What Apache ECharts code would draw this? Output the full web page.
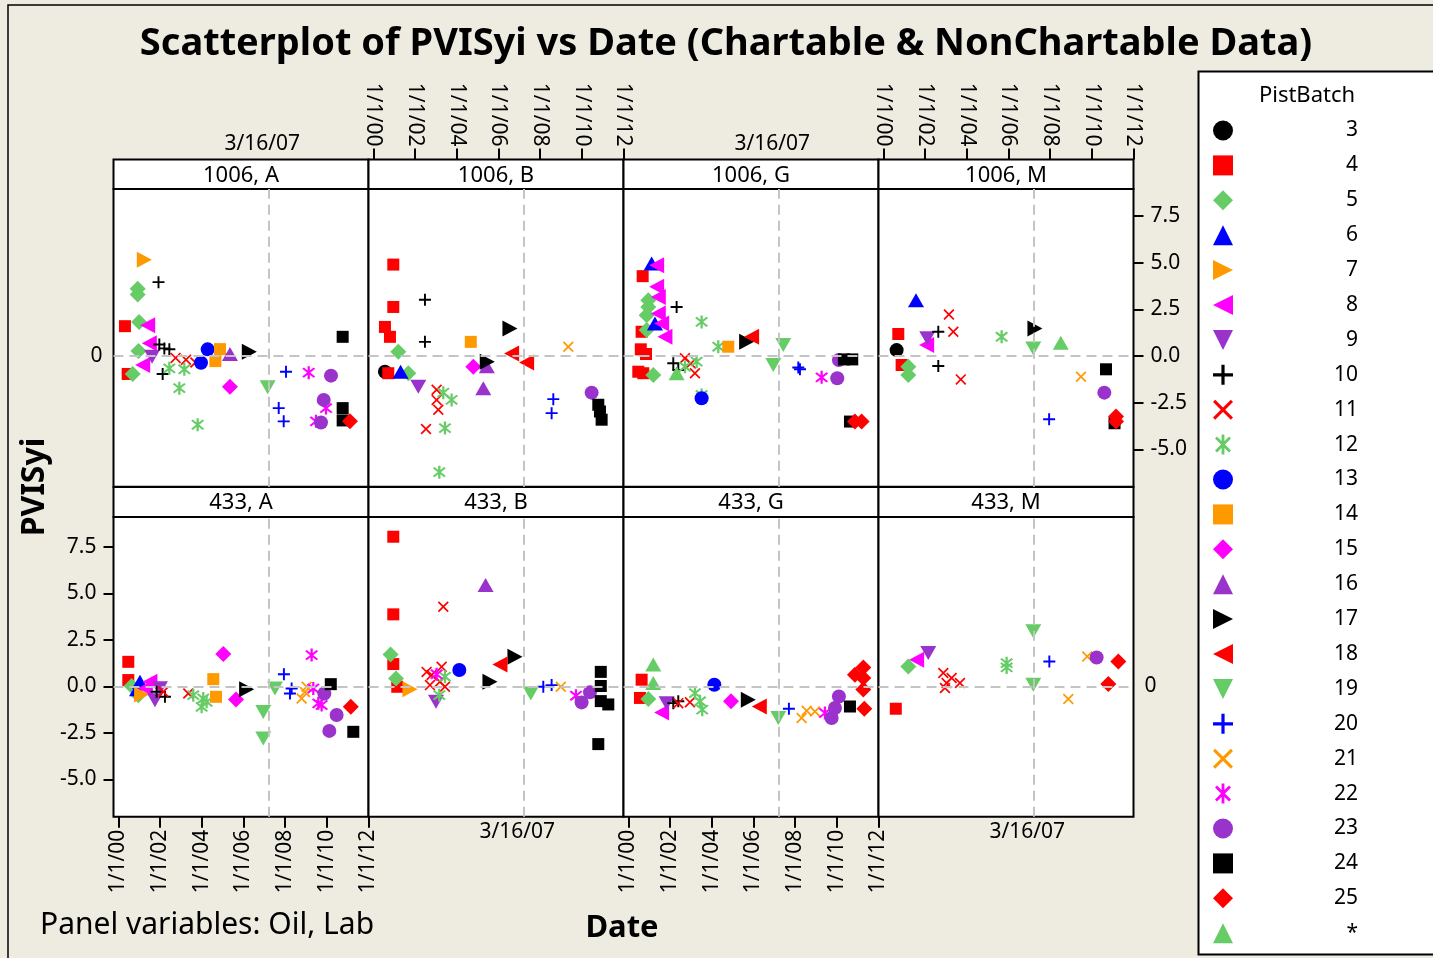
<!DOCTYPE html>
<html>
<head>
<meta charset="utf-8">
<script src="https://cdn.jsdelivr.net/npm/echarts@6/dist/echarts.min.js"></script>
<style>
  html, body { margin: 0; padding: 0; background: #EEEBE1; }
  #chart { width: 1433px; height: 958px; }
</style>
</head>
<body>
<div id="chart"></div>
<script>
// panels (Oil, Lab)
const panels = ["1006, A", "1006, B", "1006, G", "1006, M", "433, A", "433, B", "433, G", "433, M"];
// PistBatch groups
const batches = ["3", "4", "5", "6", "7", "8", "9", "10", "11", "12", "13", "14", "15", "16", "17", "18", "19", "20", "21", "22", "23", "24", "25", "*"];
// date axis ticks (decimal years) and value ticks
const xTicks = [2000, 2002, 2004, 2006, 2008, 2010, 2012];
const yTicks = [-5, -2.5, 0, 2.5, 5, 7.5];
const refDate = 2007.2; // 3/16/07
const refLabel = "3/16/07";

// [PistBatch, date (decimal year), PVISyi]
const p1006A = [
  ["7", 2001.25, 5.16], ["10", 2001.93, 3.96], ["5", 2000.93, 3.61], ["5", 2000.93, 3.30],
  ["4", 2000.32, 1.60], ["5", 2001.00, 1.83], ["8", 2001.41, 1.65], ["8", 2001.49, 0.68],
  ["5", 2000.97, 0.27], ["9", 2001.62, -0.04], ["10", 2001.97, 0.62], ["10", 2002.21, 0.41],
  ["10", 2002.45, 0.36], ["4", 2000.45, -0.96], ["5", 2000.69, -0.96], ["8", 2001.17, -0.48],
  ["10", 2002.13, -0.96], ["11", 2002.75, -0.10], ["11", 2003.25, -0.20], ["11", 2003.70, -0.35],
  ["12", 2002.45, -0.66], ["12", 2003.17, -0.71], ["12", 2002.93, -1.72], ["12", 2003.81, -3.68],
  ["13", 2004.29, 0.36], ["13", 2003.97, -0.36], ["14", 2004.88, 0.37], ["14", 2004.66, -0.27],
  ["16", 2005.36, 0.11], ["17", 2006.29, 0.23], ["15", 2005.36, -1.64], ["19", 2007.17, -1.67],
  ["20", 2008.05, -0.84], ["20", 2007.70, -2.79], ["20", 2007.94, -3.50], ["22", 2009.14, -0.89],
  ["22", 2009.97, -2.79], ["22", 2009.49, -3.50], ["23", 2010.21, -1.05], ["23", 2009.86, -2.35],
  ["23", 2009.73, -3.56], ["24", 2010.77, 1.03], ["24", 2010.77, -2.79], ["24", 2010.77, -3.45],
  ["25", 2011.12, -3.50]
];
const p1006B = [
  ["4", 2000.96, 4.90], ["4", 2000.96, 2.63], ["4", 2000.56, 1.56], ["4", 2000.80, 1.03],
  ["4", 2000.72, -0.92], ["10", 2002.48, 3.02], ["10", 2002.48, 0.76], ["5", 2001.20, 0.23],
  ["5", 2001.68, -0.92], ["3", 2000.56, -0.84], ["6", 2001.31, -0.84], ["9", 2002.16, -1.64],
  ["11", 2003.04, -1.81], ["11", 2003.04, -2.35], ["11", 2003.12, -2.88], ["11", 2002.53, -3.91],
  ["12", 2003.36, -1.96], ["12", 2003.76, -2.35], ["12", 2003.44, -3.86], ["12", 2003.17, -6.22],
  ["14", 2004.68, 0.76], ["15", 2004.80, -0.57], ["16", 2005.45, -0.55], ["16", 2005.28, -1.72],
  ["17", 2006.56, 1.48], ["17", 2005.47, -0.30], ["18", 2006.64, 0.14], ["18", 2007.36, -0.35],
  ["21", 2009.36, 0.50], ["20", 2008.64, -2.31], ["20", 2008.56, -3.06], ["23", 2010.48, -1.96],
  ["24", 2010.80, -2.61], ["24", 2010.88, -2.97], ["24", 2010.96, -3.41]
];
const p1006G = [
  ["6", 2001.12, 4.96], ["6", 2001.28, 1.75], ["8", 2001.36, 4.87], ["8", 2001.36, 3.71],
  ["8", 2001.44, 3.17], ["8", 2001.44, 2.28], ["8", 2001.60, 1.75], ["8", 2001.76, 1.03],
  ["4", 2000.69, 4.28], ["4", 2000.64, 1.30], ["4", 2000.60, 0.36], ["4", 2000.85, 0.11],
  ["4", 2000.48, -0.84], ["4", 2000.72, -0.92], ["5", 2000.96, 2.99], ["5", 2000.96, 2.63],
  ["5", 2000.88, 2.19], ["5", 2000.88, 1.39], ["5", 2001.20, -1.02], ["10", 2002.32, 2.63],
  ["10", 2002.16, -0.39], ["10", 2002.40, -0.75], ["*", 2002.32, -0.92], ["12", 2003.52, 1.83],
  ["12", 2004.32, 0.50], ["12", 2003.28, -0.30], ["12", 2002.72, -0.57], ["12", 2003.52, -2.09],
  ["11", 2002.72, -0.12], ["11", 2003.00, -0.40], ["11", 2003.20, -0.92], ["13", 2003.52, -2.26],
  ["14", 2004.80, 0.50], ["17", 2005.68, 0.76], ["18", 2005.92, 1.03], ["19", 2007.44, 0.59],
  ["19", 2006.96, -0.48], ["20", 2008.16, -0.61], ["20", 2008.24, -0.71], ["22", 2009.28, -1.14],
  ["23", 2010.11, -0.21], ["23", 2010.03, -1.19], ["24", 2010.35, -0.18], ["24", 2010.75, -0.18],
  ["24", 2010.64, -3.51], ["25", 2010.88, -3.51], ["25", 2011.20, -3.51]
];
const p1006M = [
  ["6", 2001.57, 2.99], ["11", 2003.15, 2.23], ["11", 2003.36, 1.30], ["11", 2003.72, -1.25],
  ["4", 2000.72, 1.18], ["4", 2000.88, -0.48], ["3", 2000.64, 0.32], ["10", 2002.64, 1.30],
  ["10", 2002.64, -0.53], ["9", 2002.11, 0.95], ["8", 2002.08, 0.59], ["5", 2001.20, -0.57],
  ["5", 2001.20, -1.02], ["12", 2005.68, 1.03], ["17", 2007.28, 1.48], ["19", 2007.20, 0.41],
  ["*", 2008.52, 0.71], ["21", 2009.49, -1.11], ["20", 2007.96, -3.39], ["24", 2010.69, -0.71],
  ["23", 2010.61, -1.96], ["24", 2011.10, -3.60], ["25", 2011.17, -3.24], ["25", 2011.17, -3.51]
];
const p433A = [
  ["4", 2000.48, 1.32], ["4", 2000.48, 0.34], ["5", 2000.64, 0.02], ["5", 2000.96, -0.47],
  ["6", 2001.04, 0.25], ["6", 2000.90, -0.15], ["7", 2001.12, -0.43], ["8", 2001.52, 0.25],
  ["8", 2001.30, -0.10], ["9", 2001.76, -0.74], ["9", 2002.00, -0.10], ["10", 2001.84, -0.29],
  ["10", 2002.24, -0.56], ["11", 2002.16, -0.29], ["11", 2003.36, -0.38], ["12", 2003.60, -0.47],
  ["12", 2004.08, -0.65], ["12", 2004.00, -1.10], ["12", 2004.24, -0.83], ["14", 2004.56, 0.39],
  ["14", 2004.69, -0.56], ["15", 2005.04, 1.74], ["15", 2005.65, -0.70], ["17", 2006.16, -0.15],
  ["19", 2006.96, -1.37], ["19", 2006.96, -2.80], ["19", 2007.52, -0.11], ["20", 2007.95, 0.65],
  ["20", 2008.32, -0.11], ["20", 2008.24, -0.38], ["21", 2009.04, -0.02], ["21", 2008.80, -0.65],
  ["21", 2008.96, -0.30], ["22", 2009.28, 1.68], ["22", 2009.36, -0.11], ["22", 2009.60, -0.91],
  ["22", 2009.76, -1.00], ["23", 2009.89, -0.38], ["23", 2010.48, -1.54], ["23", 2010.13, -2.39],
  ["24", 2010.20, 0.12], ["24", 2011.28, -2.44], ["25", 2011.16, -1.10]
];
const p433B = [
  ["4", 2000.96, 8.04], ["4", 2000.96, 3.87], ["4", 2000.96, 1.20], ["4", 2001.15, -0.02],
  ["5", 2000.83, 1.72], ["5", 2001.09, 0.43], ["7", 2001.76, -0.15], ["11", 2003.36, 4.28],
  ["11", 2002.56, 0.78], ["11", 2002.80, 0.61], ["11", 2003.28, 1.05], ["11", 2002.72, 0.07],
  ["11", 2003.20, 0.25], ["11", 2003.44, -0.02], ["22", 2003.04, 0.65], ["12", 2003.44, 0.52],
  ["12", 2003.17, -0.47], ["9", 2003.01, -0.83], ["13", 2004.13, 0.88], ["16", 2005.39, 5.45],
  ["18", 2006.08, 1.18], ["17", 2006.80, 1.59], ["17", 2005.60, 0.25], ["19", 2007.56, -0.38],
  ["20", 2008.16, -0.02], ["20", 2008.56, 0.07], ["21", 2009.00, -0.02], ["22", 2009.73, -0.50],
  ["23", 2010.40, -0.32], ["23", 2010.00, -0.86], ["24", 2010.92, 0.78], ["24", 2010.92, 0.02],
  ["24", 2010.92, -0.79], ["24", 2011.28, -0.97], ["24", 2010.80, -3.10]
];
const p433G = [
  ["4", 2000.64, 0.36], ["4", 2000.56, -0.62], ["*", 2001.20, 1.17], ["*", 2001.20, 0.18],
  ["5", 2000.96, -0.68], ["8", 2001.60, -1.40], ["9", 2001.84, -0.90], ["10", 2002.16, -0.90],
  ["10", 2002.40, -0.80], ["11", 2002.40, -0.90], ["11", 2002.96, -0.85], ["12", 2003.20, -0.36],
  ["12", 2003.44, -0.80], ["12", 2003.55, -1.25], ["13", 2004.13, 0.09], ["15", 2004.93, -0.80],
  ["17", 2005.76, -0.72], ["18", 2006.29, -1.08], ["19", 2007.20, -1.70], ["20", 2007.71, -1.20],
  ["21", 2008.32, -1.70], ["21", 2008.56, -1.31], ["21", 2008.96, -1.35], ["22", 2009.44, -1.43],
  ["23", 2010.11, -0.54], ["23", 2009.92, -1.16], ["23", 2009.76, -1.70], ["24", 2010.64, -1.08],
  ["25", 2011.28, 1.02], ["25", 2010.88, 0.63], ["25", 2011.28, 0.45], ["25", 2011.28, -0.17],
  ["25", 2011.33, -1.20]
];
const p433M = [
  ["4", 2000.60, -1.20], ["5", 2001.20, 1.07], ["8", 2001.60, 1.43], ["9", 2002.16, 1.79],
  ["11", 2002.88, 0.72], ["11", 2003.28, 0.45], ["11", 2003.68, 0.18], ["11", 2002.96, -0.09],
  ["11", 2003.04, 0.18], ["12", 2005.92, 1.25], ["12", 2005.92, 1.02], ["19", 2007.20, 2.96],
  ["19", 2007.20, 0.09], ["20", 2007.97, 1.34], ["21", 2009.79, 1.61], ["21", 2008.88, -0.68],
  ["23", 2010.24, 1.55], ["25", 2011.28, 1.34], ["25", 2010.80, 0.13]
];
const panelData = [p1006A, p1006B, p1006G, p1006M, p433A, p433B, p433G, p433M];

// symbol shapes
const PLUS = "path://M4.2,0H5.8V4.2H10V5.8H5.8V10H4.2V5.8H0V4.2H4.2Z";
const CROSS = "path://M0,1.1L1.1,0L10,8.9L8.9,10ZM8.9,0L10,1.1L1.1,10L0,8.9Z";
const STAR = "path://M4.3,0H5.7V10H4.3ZM1,2L2,1L9,8L8,9ZM8,1L9,2L2,9L1,8Z";
const TRI_R = "path://M0,0L10,5L0,10Z";
const TRI_L = "path://M10,0L0,5L10,10Z";
const TRI_D = "path://M0,0L10,0L5,10Z";

const BLACK = "#000000", RED = "#FF0000", GREEN = "#66CC66", BLUE = "#0000FF",
  ORANGE = "#FF9900", MAGENTA = "#FF00FF", PURPLE = "#9933CC";

// symbol, colour, size per batch
const batchStyle = {
  "3": ["circle", BLACK, 14], "4": ["rect", RED, 12], "5": ["diamond", GREEN, 16],
  "6": ["triangle", BLUE, [16, 14]], "7": [TRI_R, ORANGE, [15, 16]], "8": [TRI_L, MAGENTA, [15, 16]],
  "9": [TRI_D, PURPLE, [16, 14]], "10": [PLUS, BLACK, 12], "11": [CROSS, RED, 11],
  "12": [STAR, GREEN, 13], "13": ["circle", BLUE, 14], "14": ["rect", ORANGE, 12],
  "15": ["diamond", MAGENTA, 16], "16": ["triangle", PURPLE, [16, 14]], "17": [TRI_R, BLACK, [15, 16]],
  "18": [TRI_L, RED, [15, 16]], "19": [TRI_D, GREEN, [16, 14]], "20": [PLUS, BLUE, 12],
  "21": [CROSS, ORANGE, 11], "22": [STAR, MAGENTA, 13], "23": ["circle", PURPLE, 14],
  "24": ["rect", BLACK, 12], "25": ["diamond", RED, 16], "*": ["triangle", GREEN, [16, 14]]
};

// layout
const FONT = "Noto Sans";
const colLeft = [113.5, 368.5, 623.5, 878.5];
const panelW = 255;
const headerTop = [159.5, 487];
const gridTop = [189, 517];
const gridH = [297.7, 299.7];
const yMax = [8.95, 9.1];
const xMin = 1999.77, xMax = 2012.01;

const chart = echarts.init(document.getElementById("chart"));

const grids = [], xAxes = [], yAxes = [], series = [], graphics = [];

graphics.push({
  type: "rect", shape: { x: 8, y: 5, width: 1440, height: 970 },
  style: { fill: "none", stroke: "#000", lineWidth: 1.5 }
});

panels.forEach((name, i) => {
  const r = i < 4 ? 0 : 1;
  const c = i % 4;
  grids.push({
    left: colLeft[c], top: gridTop[r], width: panelW, height: gridH[r],
    show: true, backgroundColor: "#fff", borderColor: "#000", borderWidth: 2,
    outerBoundsMode: "none"
  });

  const dateTicks = (r === 0) === (c % 2 === 1);
  xAxes.push({
    type: "value", gridIndex: i, min: xMin, max: xMax,
    position: r === 0 ? "top" : "bottom",
    offset: r === 0 ? gridTop[0] - headerTop[0] : 0,
    axisLine: { show: false, onZero: false }, splitLine: { show: false },
    axisTick: dateTicks
      ? { show: true, customValues: xTicks, length: 11, lineStyle: { color: "#000", width: 2 } }
      : { show: false },
    axisLabel: dateTicks
      ? {
          customValues: xTicks, rotate: 90, margin: 13, color: "#000", fontFamily: FONT, fontSize: 21,
          formatter: v => "1/1/" + String(Math.round(v) % 100).padStart(2, "0")
        }
      : {
          customValues: [refDate], margin: 5, color: "#000", fontFamily: FONT, fontSize: 21,
          padding: [0, 12, 0, 0],
          formatter: () => refLabel
        }
  });

  const valueTicks = (r === 0 && c === 3) || (r === 1 && c === 0);
  const zeroLabel = (r === 0 && c === 0) || (r === 1 && c === 3);
  yAxes.push({
    type: "value", gridIndex: i, min: -7, max: yMax[r],
    position: c === 3 ? "right" : "left",
    axisLine: { show: false, onZero: false }, splitLine: { show: false },
    axisTick: valueTicks
      ? { show: true, customValues: yTicks, length: 10, lineStyle: { color: "#000", width: 2 } }
      : { show: false },
    axisLabel: valueTicks
      ? { customValues: yTicks, margin: 17, color: "#000", fontFamily: FONT, fontSize: 21, formatter: v => v.toFixed(1) }
      : zeroLabel
        ? { customValues: [0], margin: 11, color: "#000", fontFamily: FONT, fontSize: 21, formatter: () => "0" }
        : { show: false }
  });

  // reference lines at 3/16/07 and 0
  series.push({
    type: "scatter", xAxisIndex: i, yAxisIndex: i, data: [], silent: true,
    markLine: {
      silent: true, symbol: "none", animation: false,
      label: { show: false },
      lineStyle: { color: "#C4C4C4", type: [10, 6], width: 2 },
      data: [{ xAxis: refDate }, { yAxis: 0 }]
    }
  });

  batches.forEach(b => {
    const pts = panelData[i].filter(p => p[0] === b).map(p => [p[1], p[2]]);
    if (!pts.length) return;
    const st = batchStyle[b];
    series.push({
      name: b, type: "scatter", xAxisIndex: i, yAxisIndex: i,
      symbol: st[0], symbolSize: st[2], itemStyle: { color: st[1], opacity: 1 },
      data: pts
    });
  });

  // strip header
  graphics.push({
    type: "rect", shape: { x: colLeft[c], y: headerTop[r], width: panelW, height: gridTop[r] - headerTop[r] },
    style: { fill: "#fff", stroke: "#000", lineWidth: 2 }
  });
  graphics.push({
    type: "text", x: colLeft[c] + panelW / 2, y: (headerTop[r] + gridTop[r]) / 2 + 1,
    style: { text: name, fill: "#000", font: "22px '" + FONT + "'", textAlign: "center", textVerticalAlign: "middle" }
  });
});

// legend box
graphics.push({
  type: "rect", shape: { x: 1198.5, y: 71.5, width: 260, height: 883 },
  style: { fill: "#fff", stroke: "#000", lineWidth: 2 }
});
graphics.push({
  type: "text", x: 1307, y: 96,
  style: { text: "PistBatch", fill: "#000", font: "22px '" + FONT + "'", textAlign: "center", textVerticalAlign: "middle" }
});
// titles
graphics.push({
  type: "text", x: 726, y: 44,
  style: { text: "Scatterplot of PVISyi vs Date (Chartable & NonChartable Data)", fill: "#000",
    font: "bold 38px '" + FONT + "'", textAlign: "center", textVerticalAlign: "middle" }
});
graphics.push({
  type: "text", x: 35, y: 487, rotation: Math.PI / 2,
  style: { text: "PVISyi", fill: "#000", font: "bold 32px '" + FONT + "'", textAlign: "center", textVerticalAlign: "middle" }
});
graphics.push({
  type: "text", x: 622, y: 928,
  style: { text: "Date", fill: "#000", font: "bold 31px '" + FONT + "'", textAlign: "center", textVerticalAlign: "middle" }
});
graphics.push({
  type: "text", x: 40, y: 925,
  style: { text: "Panel variables: Oil, Lab", fill: "#000", font: "30px '" + FONT + "'", textAlign: "left", textVerticalAlign: "middle" }
});

chart.setOption({
  backgroundColor: "#EEEBE1",
  animation: false,
  grid: grids,
  xAxis: xAxes,
  yAxis: yAxes,
  legend: {
    data: batches,
    orient: "vertical",
    left: 1213, top: 120,
    padding: 0,
    itemWidth: 20, itemHeight: 20, itemGap: 13.9,
    selectedMode: false,
    formatter: "{n|{name}}",
    textStyle: {
      color: "#000", fontFamily: FONT, fontSize: 20, lineHeight: 20,
      rich: { n: { width: 120, height: 20, lineHeight: 20, align: "right", fontFamily: FONT, fontSize: 21, color: "#000" } }
    }
  },
  graphic: { elements: graphics },
  series: series
});
</script>
</body>
</html>
